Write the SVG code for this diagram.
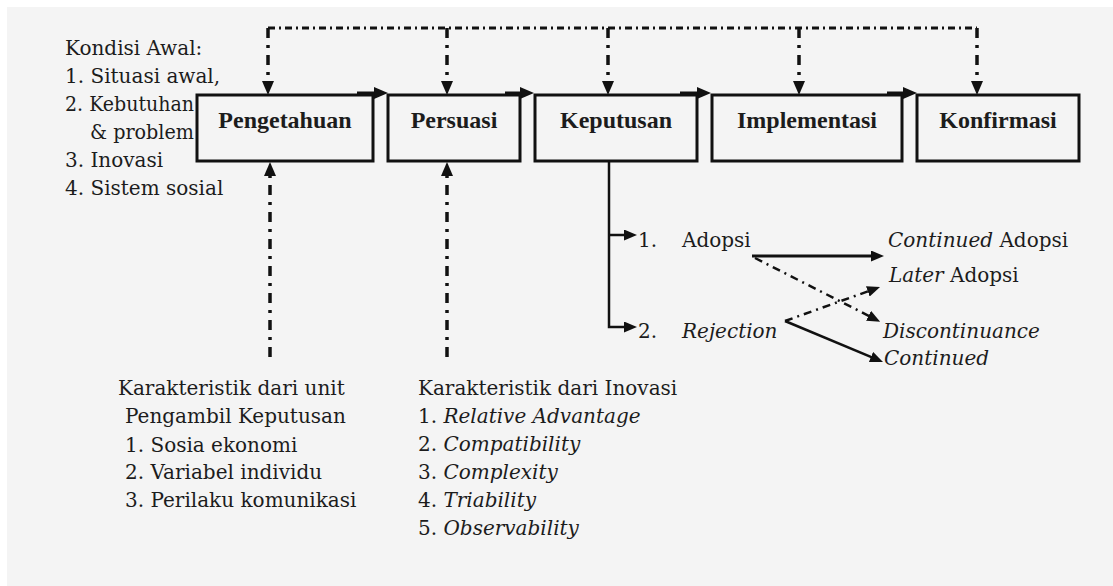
<svg xmlns="http://www.w3.org/2000/svg" width="1113" height="586" viewBox="0 0 1113 586">
<style>
text{font-family:"DejaVu Serif","Liberation Serif",serif;font-size:20px;fill:#1c1c1c}
.b{font-family:"Liberation Serif","DejaVu Serif",serif;font-size:24px;font-weight:bold;text-anchor:middle}
.i{font-style:italic}
.box{fill:#f4f4f4;stroke:#111;stroke-width:3}
.solid{fill:none;stroke:#111;stroke-width:3}
.thin{fill:none;stroke:#111;stroke-width:2.5}
.dd{fill:none;stroke:#111;stroke-width:3.5;stroke-dasharray:10 7 3 7}
.ddh{fill:none;stroke:#111;stroke-width:3;stroke-dasharray:7 4 2 4}
.dds{fill:none;stroke:#111;stroke-width:2.5;stroke-dasharray:8 5 2 5}
</style>
<defs>
<marker id="ah" viewBox="0 0 14 12" markerWidth="14" markerHeight="12" refX="6" refY="6" orient="auto" markerUnits="userSpaceOnUse"><path d="M0,0 L14,6 L0,12 z" fill="#111"/></marker>
<marker id="as" viewBox="0 0 13 11" markerWidth="13" markerHeight="11" refX="5" refY="5.5" orient="auto" markerUnits="userSpaceOnUse"><path d="M0,0 L13,5.5 L0,11 z" fill="#111"/></marker>
</defs>
<rect x="0" y="0" width="1113" height="586" fill="#ffffff"/>
<rect x="7" y="7" width="1106" height="579" fill="#f4f4f4"/>

<g id="kondisi-awal">
<text x="65" y="55">Kondisi Awal:</text>
<text x="65" y="83">1. Situasi awal,</text>
<text x="65" y="111" textLength="129" lengthAdjust="spacingAndGlyphs">2. Kebutuhan</text>
<text x="90" y="139" textLength="104" lengthAdjust="spacingAndGlyphs">&amp; problem</text>
<text x="65" y="167">3. Inovasi</text>
<text x="65" y="195">4. Sistem sosial</text>
</g>

<g id="connectors">
<path class="ddh" d="M268,28 H977"/>
<path class="dd" d="M268,28 V87" marker-end="url(#ah)"/>
<path class="dd" d="M447,28 V87" marker-end="url(#ah)"/>
<path class="dd" d="M608,28 V87" marker-end="url(#ah)"/>
<path class="dd" d="M799,28 V87" marker-end="url(#ah)"/>
<path class="dd" d="M977,28 V87" marker-end="url(#ah)"/>
<path class="dd" d="M270,357 V170" marker-end="url(#ah)"/>
<path class="dd" d="M447,357 V170" marker-end="url(#ah)"/>
<path class="solid" d="M357,93 H380" marker-end="url(#ah)"/>
<path class="solid" d="M505,93 H526" marker-end="url(#ah)"/>
<path class="solid" d="M680,93 H703" marker-end="url(#ah)"/>
<path class="solid" d="M887,93 H909" marker-end="url(#ah)"/>
<path class="thin" d="M609,161 V327 H629" marker-end="url(#as)"/>
<path class="thin" d="M609,235 H629" marker-end="url(#as)"/>
<path class="solid" d="M752,256 H876" marker-end="url(#as)"/>
<path class="dds" d="M755,258 L873,318" marker-end="url(#as)"/>
<path class="dds" d="M785,321 L872.5,289.7" marker-end="url(#as)"/>
<path class="thin" d="M785,321 L875.6,358.9" marker-end="url(#as)"/>
</g>

<g id="pengetahuan"><rect class="box" x="197" y="95" width="176" height="66"/><text class="b" x="285" y="128">Pengetahuan</text></g>
<g id="persuasi"><rect class="box" x="388" y="95" width="132" height="66"/><text class="b" x="454" y="128">Persuasi</text></g>
<g id="keputusan"><rect class="box" x="535" y="95" width="162" height="66"/><text class="b" x="616" y="128">Keputusan</text></g>
<g id="implementasi"><rect class="box" x="712" y="95" width="190" height="66"/><text class="b" x="807" y="128">Implementasi</text></g>
<g id="konfirmasi"><rect class="box" x="917" y="95" width="162" height="66"/><text class="b" x="998" y="128">Konfirmasi</text></g>

<g id="adopsi"><text x="638" y="247">1.</text><text x="682" y="247">Adopsi</text></g>
<g id="rejection"><text x="638" y="338">2.</text><text class="i" x="682" y="338">Rejection</text></g>
<g id="continued-adopsi"><text x="888" y="247"><tspan class="i">Continued</tspan> Adopsi</text></g>
<g id="later-adopsi"><text x="889" y="282"><tspan class="i">Later</tspan> Adopsi</text></g>
<g id="discontinuance"><text class="i" x="883" y="338">Discontinuance</text></g>
<g id="continued"><text class="i" x="884" y="365">Continued</text></g>

<g id="karakteristik-unit">
<text x="118" y="395">Karakteristik dari unit</text>
<text x="125" y="423">Pengambil Keputusan</text>
<text x="125" y="452">1. Sosia ekonomi</text>
<text x="125" y="479">2. Variabel individu</text>
<text x="125" y="507">3. Perilaku komunikasi</text>
</g>

<g id="karakteristik-inovasi">
<text x="418" y="395">Karakteristik dari Inovasi</text>
<text x="418" y="423">1. <tspan class="i">Relative Advantage</tspan></text>
<text x="418" y="451">2. <tspan class="i">Compatibility</tspan></text>
<text x="418" y="479">3. <tspan class="i">Complexity</tspan></text>
<text x="418" y="507">4. <tspan class="i">Triability</tspan></text>
<text x="418" y="535">5. <tspan class="i">Observability</tspan></text>
</g>
</svg>
